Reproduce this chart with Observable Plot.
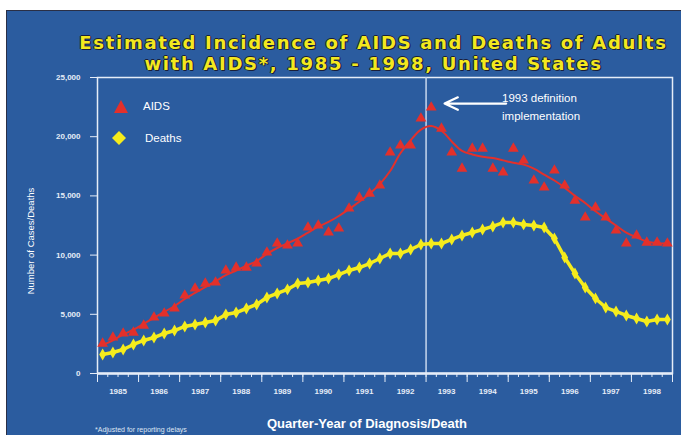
<!DOCTYPE html>
<html>
<head>
<meta charset="utf-8">
<script src="https://cdn.jsdelivr.net/npm/d3@7"></script>
<script src="https://cdn.jsdelivr.net/npm/@observablehq/plot@0.6"></script>
<style>
  html, body { margin: 0; padding: 0; background: #ffffff; }
  #wrap { position: relative; width: 681px; height: 435px; overflow: hidden; background: #ffffff; }
  #panel { position: absolute; left: 6px; top: 10px; width: 675px; height: 425px; background: #2b5c9f;
           border-left: 1px solid #2a2f45; border-top: 1px solid #2a2f45; box-sizing: border-box; }
  #chart { position: absolute; left: 0; top: 0; }
  .title { position: absolute; left: 33px; width: 681px; text-align: center; color: #f3e81e;
           font-family: "DejaVu Sans", sans-serif; font-weight: 700; font-size: 18px; line-height: 21px; letter-spacing: 1.7px;
           text-shadow: 1px 1px 0 #1a1f3a, -1px 0 0 #1a1f3a, 0 -1px 0 #1a1f3a, 1px 0 0 #1a1f3a; white-space: nowrap; }
  .ylab { position: absolute; left: 30px; top: 241px; transform: translate(-50%, -50%) rotate(-90deg);
          color: #ffffff; font-family: "Liberation Sans", sans-serif; font-size: 9.5px; white-space: nowrap; }
  .xlab { position: absolute; left: 367px; top: 423px; transform: translate(-50%, -50%);
          color: #ffffff; font-family: "Liberation Sans", sans-serif; font-weight: 700; font-size: 13px; white-space: nowrap; }
  .foot { position: absolute; left: 95px; top: 426px; color: #dfe6f3; font-family: "Liberation Sans", sans-serif;
          font-size: 7px; white-space: nowrap; }
  .leg { position: absolute; color: #ffffff; font-family: "Liberation Sans", sans-serif; font-size: 11.5px; white-space: nowrap; }
  .legsym { position: absolute; }
</style>
</head>
<body>
<div id="wrap">
  <div id="panel"></div>
  <div id="chart"></div>
  <div class="title" style="top:32px;">Estimated Incidence of AIDS and Deaths of Adults</div>
  <div class="title" style="top:53px;">with AIDS*, 1985 - 1998, United States</div>
  <div class="ylab">Number of Cases/Deaths</div>
  <div class="xlab">Quarter-Year of Diagnosis/Death</div>
  <div class="foot">*Adjusted for reporting delays</div>
  <svg class="legsym" style="left:113px;top:99px;" width="16" height="16"><polygon points="8,1 15,14 1,14" fill="#e3302b"/></svg>
  <div class="leg" style="left:143px;top:100px;">AIDS</div>
  <svg class="legsym" style="left:111px;top:130px;" width="16" height="16"><polygon points="8,1 15,8 8,15 1,8" fill="#f5ec1c"/></svg>
  <div class="leg" style="left:145px;top:132px;">Deaths</div>
</div>
<script>
// ---- data (quarterly, 1985 Q1 .. 1998 Q4) ----
const startYear = 1985;
const endYear = 1999;
const yTicks = [0, 5000, 10000, 15000, 20000, 25000];
const yearLabels = ["1985","1986","1987","1988","1989","1990","1991","1992","1993","1994","1995","1996","1997","1998"];
const definitionYear = 1993;
const annotationText = "1993 definition\nimplementation";

// AIDS incidence, quarterly estimates (triangles)
const aidsPoints = [2530,3040,3380,3460,4050,4730,5070,5490,6590,7180,
                    7600,7690,8700,8950,8950,9290,10220,10980,10810,10980,
                    12330,12500,11910,12250,13940,14860,15200,15880,18670,19260,
                    19260,21540,22470,20690,18670,17310,19000,19000,17310,16980,
                    19000,17990,16300,15710,17150,15880,14610,13180,14020,13180,
                    12080,10980,11660,11060,11060,10980];
// AIDS incidence, smoothed trend line
const aidsTrend = [2400,2800,3300,3700,4200,4700,5200,5700,6300,6800,
                   7300,7800,8300,8700,9100,9500,10100,10600,11000,11400,
                   11900,12400,12800,13300,13900,14500,15200,16000,17100,18600,
                   19700,20600,20900,20500,19600,18800,18500,18300,18200,18000,
                   17800,17650,17300,16800,16300,15700,15000,14400,13700,13100,
                   12500,11900,11500,11150,11000,11000];
// Deaths of adults with AIDS
const deaths = [1600,1770,2030,2450,2790,3040,3380,3630,3970,4140,
                4310,4480,4980,5150,5490,5830,6420,6760,7100,7600,
                7690,7860,8020,8360,8700,8950,9290,9710,10140,10140,
                10470,10900,10980,10980,11320,11660,11910,12160,12420,12750,
                12750,12590,12500,12330,11400,9800,8450,7260,6340,5570,
                5240,4900,4650,4390,4560,4560];

const red = "#e3302b";
const yellow = "#f5ec1c";
const axisWhite = "#e6edf8";

const data = aidsPoints.map((v, i) => ({
  x: startYear + (i + 0.5) / 4,
  aids: v,
  trend: aidsTrend[i],
  deaths: deaths[i]
}));
const quarterTicks = d3.range(startYear * 4, endYear * 4 + 1).map(q => q / 4);
const yearTicks = d3.range(startYear, endYear + 1);
const yearMid = yearLabels.map((s, i) => startYear + i + 0.5);

const chart = Plot.plot({
  width: 681,
  height: 435,
  marginLeft: 97,
  marginRight: 9,
  marginTop: 77,
  marginBottom: 62,
  style: { background: "transparent", color: axisWhite, fontFamily: "Liberation Sans, sans-serif" },
  x: { domain: [startYear, endYear] },
  y: { domain: [0, 25000] },
  marks: [
    Plot.frame({ stroke: axisWhite, strokeWidth: 1.5 }),
    Plot.ruleX([definitionYear], { stroke: "#c9d8ee", strokeWidth: 1.5 }),
    Plot.axisY({ ticks: yTicks, tickSize: 7, tickPadding: 10, tickFormat: d3.format(","), fontSize: 8, fontWeight: "bold", label: null }),
    Plot.axisX({ ticks: quarterTicks, tickSize: 4, tickFormat: () => "", label: null }),
    Plot.axisX({ ticks: yearTicks, tickSize: 9, tickFormat: () => "", label: null }),
    Plot.axisX({ ticks: yearMid, tickSize: 0, tickPadding: 15, tickFormat: (d) => yearLabels[Math.floor(d) - startYear], fontSize: 8, fontWeight: "bold", label: null }),
    Plot.ruleY([0], { stroke: axisWhite, strokeWidth: 2.5 }),
    Plot.line(data, { x: "x", y: "deaths", stroke: yellow, strokeWidth: 3.5, curve: "linear" }),
    Plot.dot(data, { x: "x", y: "deaths", symbol: "diamond", r: 3.6, fill: yellow }),
    Plot.line(data, { x: "x", y: "trend", stroke: red, strokeWidth: 2, curve: "catmull-rom" }),
    Plot.dot(data, { x: "x", y: "aids", symbol: "triangle", r: 4, fill: red }),
    Plot.arrow([{ x1: 1994.95, x2: 1993.45, y: 22800 }], { x1: "x1", x2: "x2", y1: "y", y2: "y", stroke: "#ffffff", strokeWidth: 2.2, headLength: 10, headAngle: 50 }),
    Plot.text([annotationText], { x: 1994.85, y: 22650, text: d => d, textAnchor: "start", lineAnchor: "middle", lineHeight: 1.6, fill: "#ffffff", fontSize: 11.5 })
  ]
});
document.getElementById("chart").appendChild(chart);
</script>
</body>
</html>
